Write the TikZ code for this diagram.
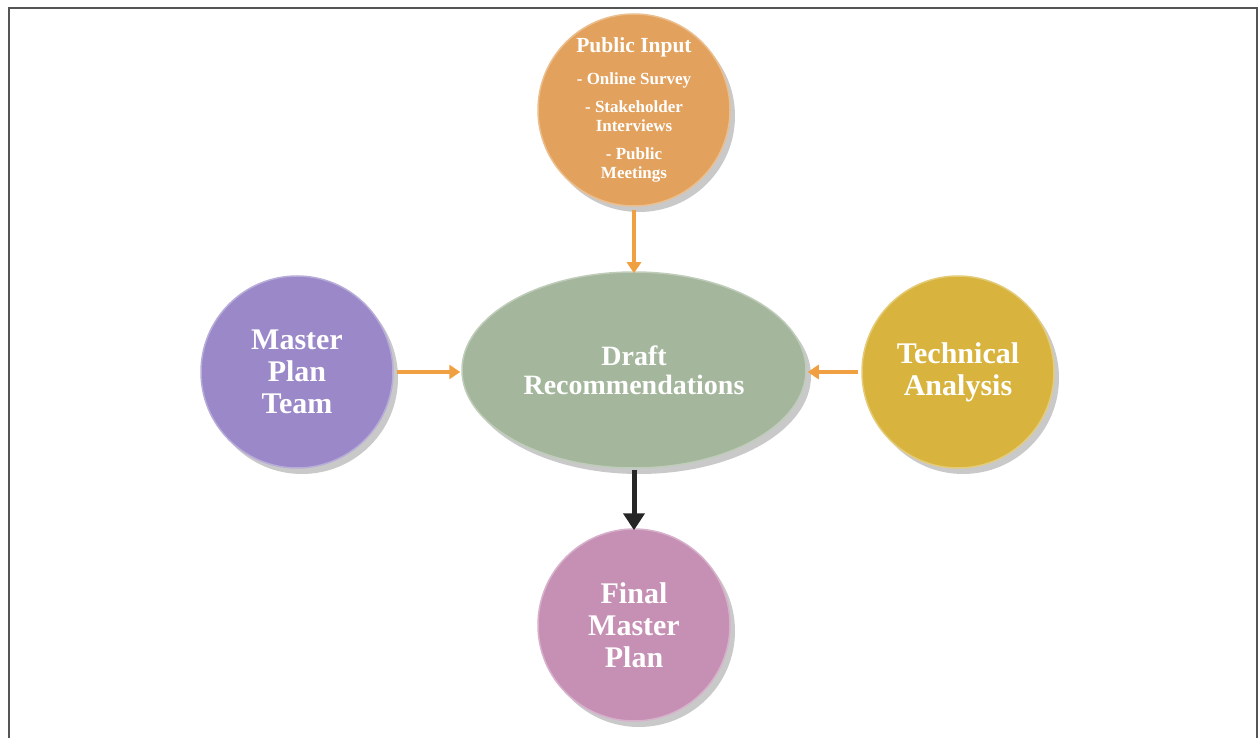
\documentclass[tikz,border=0pt]{standalone}
\usepackage{fontspec}
\setmainfont{Liberation Serif}
\usetikzlibrary{arrows.meta,shadows,shapes.geometric}
\definecolor{cOrange}{HTML}{E2A25E}
\definecolor{cPurple}{HTML}{9A88C9}
\definecolor{cYellow}{HTML}{D8B43E}
\definecolor{cGreen}{HTML}{A4B69C}
\definecolor{cPink}{HTML}{C690B4}
\definecolor{cArrow}{HTML}{F0A040}
\definecolor{cFrame}{HTML}{555555}
\begin{document}
\begin{tikzpicture}[x=1pt,y=-1pt,
  bubble/.style={circle, minimum size=192pt, inner sep=0pt, align=center, text=white,
    font=\bfseries\fontsize{30}{32}\selectfont,
    drop shadow={shadow xshift=5pt,shadow yshift=-6pt,opacity=0.3,fill=black!70}},
  oarrow/.style={draw=cArrow, line width=3.5pt, -{Triangle[length=11pt,width=14pt]}},
  barrow/.style={draw=black!85, line width=5pt, -{Triangle[length=17pt,width=21pt]}}]
\useasboundingbox (0,0) rectangle (1259,738);
\draw[cFrame, line width=2pt] (8.5,738) -- (8.5,8.5) -- (1257,8.5) -- (1257,738);

\node[bubble, fill=cOrange, draw=cOrange!70!white, line width=1.5pt,
      font=\bfseries\fontsize{17}{18.5}\selectfont] (pub) at (634,110)
  {{\fontsize{21.5}{22}\selectfont Public Input}\\[13pt]
   - Online Survey\\[10pt]
   - Stakeholder\\ Interviews\\[10pt]
   - Public\\ Meetings};

\node[ellipse, minimum width=344pt, minimum height=196pt, inner sep=0pt, align=center,
      text=white, font=\bfseries\fontsize{28}{29}\selectfont,
      fill=cGreen, draw=cGreen!70!white, line width=1.5pt,
      drop shadow={shadow xshift=5pt,shadow yshift=-6pt,opacity=0.3,fill=black!70}]
  (draft) at (634,370) {Draft\\Recommendations};

\node[bubble, fill=cPurple, draw=cPurple!70!white, line width=1.5pt] (team) at (297,372)
  {Master\\Plan\\Team};

\node[bubble, fill=cYellow, draw=cYellow!70!white, line width=1.5pt] (tech) at (958,372)
  {Technical\\Analysis};

\node[bubble, fill=cPink, draw=cPink!70!white, line width=1.5pt] (final) at (634,625)
  {Final\\Master\\Plan};

\draw[oarrow] ([yshift=-3pt]pub.south -| draft.north) -- ([yshift=-2pt]draft.north);
\draw[oarrow] ([xshift=3pt]team.east) -- ([xshift=-1pt]team.east -| draft.west);
\draw[oarrow] ([xshift=-3pt]tech.west) -- ([xshift=1pt]tech.west -| draft.east);
\draw[barrow] ([yshift=-1pt]draft.south) -- ([yshift=-2pt]draft.south |- final.north);
\end{tikzpicture}
\end{document}
